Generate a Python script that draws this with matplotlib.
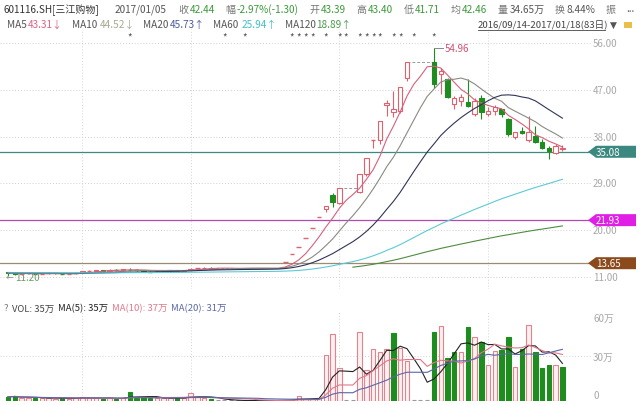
import numpy as np
import pandas as pd
import matplotlib
matplotlib.use("Agg")
import matplotlib.pyplot as plt
from matplotlib.patches import Rectangle, Polygon
from matplotlib.lines import Line2D
from matplotlib.transforms import blended_transform_factory, IdentityTransform

plt.rcParams['font.family'] = ['Noto Sans CJK SC', 'DejaVu Sans']

NaN = float('nan')

# daily bars 2016/09/14 - 2017/01/18 (83 days), NaN = suspended (停牌)
opens = [
    11.9, 11.7, 11.5, 11.6, 11.7, 11.6, 11.6, 11.7, 11.7, 11.6,
    11.6, 11.8, 12.1, 12.2, 12.3, 12.2, 12.4, 12.3, 12.5, 12.4,
    12.3, 12.1, 12.0, 12.1, 12.2, 12.3, 12.2, 12.3, 12.6, 12.7,
    12.8, NaN, NaN, NaN, NaN, NaN, NaN, NaN, NaN, NaN,
    NaN, 13.94, 15.33, 16.86, 18.55, 20.41, 22.45, 24.1, 26.77, 25.3,
    NaN, NaN, 27.4, 30.8, 37.30, 37.3, 44.0, 42.7, 42.9, 49.2,
    NaN, NaN, NaN, 52.3, 50.0, 49.1, 44.3, 44.8, 44.7, 42.35,
    45.4, 42.4, 43.0, 43.39, 41.4, 37.9, 39.0, 37.3, 38.05, 36.9,
    35.9, 34.8, 35.6,
]
highs = [
    12.0, 11.8, 11.7, 11.8, 11.8, 11.7, 11.8, 11.8, 11.8, 11.7,
    11.8, 12.2, 12.3, 12.4, 12.4, 12.5, 12.5, 12.6, 12.8, 12.5,
    12.3, 12.2, 12.2, 12.3, 12.4, 12.4, 12.4, 12.7, 12.8, 12.9,
    12.9, NaN, NaN, NaN, NaN, NaN, NaN, NaN, NaN, NaN,
    NaN, 13.94, 15.33, 16.86, 18.55, 20.41, 22.45, 24.70, 27.17, 28.03,
    NaN, NaN, 30.83, 33.91, 37.30, 41.03, 45.13, 46.8, 47.63, 52.39,
    NaN, NaN, NaN, 54.96, 51.1, 49.3, 45.9, 46.2, 49.1, 45.4,
    46.0, 43.7, 44.1, 43.40, 41.6, 38.9, 39.8, 42.0, 40.1, 37.5,
    36.25, 36.6, 36.4,
]
lows = [
    11.2, 11.4, 11.4, 11.5, 11.5, 11.5, 11.5, 11.6, 11.5, 11.5,
    11.5, 11.7, 12.0, 12.1, 12.1, 12.1, 12.2, 12.2, 12.3, 12.2,
    12.0, 11.9, 11.9, 12.0, 12.1, 12.1, 12.1, 12.3, 12.5, 12.6,
    12.6, NaN, NaN, NaN, NaN, NaN, NaN, NaN, NaN, NaN,
    NaN, 13.94, 15.33, 16.86, 18.55, 20.41, 22.45, 23.56, 24.46, 25.0,
    NaN, NaN, 27.2, 30.5, 35.9, 36.6, 41.9, 41.7, 42.5, 48.7,
    NaN, NaN, NaN, 47.3, 46.2, 45.4, 43.3, 43.9, 43.6, 42.0,
    41.4, 41.9, 42.2, 41.71, 38.1, 37.5, 38.5, 37.0, 36.8, 35.6,
    33.7, 34.6, 35.2,
]
closes = [
    11.7, 11.5, 11.6, 11.7, 11.6, 11.6, 11.7, 11.7, 11.6, 11.6,
    11.7, 12.1, 12.2, 12.3, 12.2, 12.4, 12.3, 12.5, 12.4, 12.3,
    12.1, 12.0, 12.1, 12.2, 12.3, 12.2, 12.3, 12.6, 12.7, 12.8,
    12.67, NaN, NaN, NaN, NaN, NaN, NaN, NaN, NaN, NaN,
    NaN, 13.94, 15.33, 16.86, 18.55, 20.41, 22.45, 24.70, 25.48, 28.03,
    NaN, NaN, 30.83, 33.91, 37.30, 41.03, 44.5, 43.3, 47.63, 52.39,
    NaN, NaN, NaN, 48.1, 50.7, 45.6, 45.4, 45.6, 43.8, 44.9,
    42.7, 43.0, 43.74, 42.44, 38.5, 38.8, 38.7, 38.9, 36.9, 35.75,
    35.3, 36.1, 35.9,
]
# volume in 万手
volumes = [
    2.5, 3.0, 1.5, 2.0, 1.8, 1.5, 1.8, 1.2, 1.5, 1.2,
    1.4, 2.5, 1.6, 1.4, 1.2, 1.5, 1.3, 1.6, 5.7, 2.0,
    2.2, 1.8, 1.5, 1.6, 1.4, 1.8, 2.0, 4.8, 2.5, 1.5,
    1.2, 0, 0, 0, 0, 0, 0, 0, 0, 0,
    0, 0.5, 0.6, 3.0, 0.8, 1.0, 1.5, 31, 45.5, 22,
    0, 0, 46.6, 21, 35, 33.4, 35, 46, 35.7, 26.6,
    0, 0, 0, 46.6, 51, 29, 33, 33.4, 50, 43,
    40, 24, 34, 34.65, 43, 23, 35, 51.6, 33.4, 22,
    24, 24, 23,
]
# closes before the window, only needed for MA60 / MA120
prior_closes = [
    11.6, 11.7, 11.9, 12.0, 11.8, 11.7, 11.9, 12.1, 12.0, 11.8,
    11.7, 11.6, 11.8, 11.9, 12.0, 11.9, 11.7, 11.6, 11.8, 11.9,
    12.1, 12.2, 12.0, 11.9, 11.8, 11.7, 11.9, 12.0, 11.8, 11.6,
    11.5, 11.7, 11.8, 11.9, 11.7, 11.6, 11.8, 12.0, 11.9, 11.7,
    11.6, 11.8, 11.9, 11.8, 11.7, 11.9, 12.0, 11.8, 11.7, 11.6,
    11.8, 11.9, 11.7, 11.6, 11.8, 11.9, 11.8, 11.7, 11.9, 12.0,
    11.8, 11.7, 11.9, 11.8, 11.7, 11.8, 11.9, 11.8,
]
news_days = [18, 32, 35, 42, 43, 44, 45, 47, 49, 50, 52, 53, 54, 55, 57, 58, 60, 63]
month_starts = [11, 27, 49, 71]
price_ticks = [56, 47, 38, 29, 20, 11]
vol_ticks = [0, 30, 60]
vol_tick_labels = ['0', '30万', '60万']
mark_levels = [35.08, 21.93, 13.65]
mark_line_colors = ['#3f8a80', '#b24ab2', '#9a8c74']
mark_tag_colors = ['#3a8880', '#e01ee6', '#8b4a1c']
ma_periods = [5, 10, 20, 60, 120]
ma_colors = ['#d8607e', '#8a8a80', '#303458', '#5ccad4', '#4e8c3e']
vol_ma_periods = [5, 10, 20]
vol_ma_colors = ['#222222', '#e0788a', '#5a66a8']

UP = '#e0606e'
DOWN = '#1e8c1e'
GREEN_TXT = '#3a9a3a'
LABEL_GRAY = '#777777'

W, H = 640, 406
fig = plt.figure(figsize=(W / 100, H / 100), dpi=100)


def fx(px):
    return px / W


def fy(py):
    return 1 - py / H


n = len(closes)
xs = np.arange(n)
spacing = 6.76
x0_px = 8.1
xl = (-x0_px / spacing, (592 - x0_px) / spacing)

# price panel
ax = fig.add_axes([0, fy(290), fx(592), (290 - 30) / H])
ax.set_xlim(*xl)
ax.set_ylim(8.69, 58.69)
ax.axis('off')

# volume panel
axv = fig.add_axes([0, fy(401.5), fx(592), (401.5 - 313) / H])
axv.set_xlim(*xl)
axv.set_ylim(0, (401.5 - 313) / 1.467)
axv.axis('off')

dot = (0, (1, 2))
for t in price_ticks:
    ax.axhline(t, color='#cfcfcf', lw=0.7, ls=dot, zorder=0)
    ax.text(fx(593), t, f'{t:.2f}', transform=blended_transform_factory(fig.transFigure, ax.transData),
            va='center', ha='left', fontsize=7, color='#a8a8a8')
for m in month_starts:
    ax.axvline(m, color='#d4d4d4', lw=0.7, ls=dot, zorder=0)
    axv.axvline(m, color='#d4d4d4', lw=0.7, ls=dot, zorder=0)
axv.axhline(30, color='#d4d4d4', lw=0.7, ls=dot, zorder=0)

# moving averages (suspended days carry the previous close)
filled = pd.Series(closes).ffill()
hist = pd.concat([pd.Series(prior_closes), filled], ignore_index=True)
for p, col in zip(ma_periods, ma_colors):
    ma = hist.rolling(p, min_periods=p).mean().iloc[len(prior_closes):].to_numpy()
    ax.plot(xs, ma, color=col, lw=0.8, zorder=4)

# candles
for i in range(n):
    o, h, l, c = opens[i], highs[i], lows[i], closes[i]
    if np.isnan(c):
        continue
    up = c >= o
    col = UP if up else DOWN
    if h == l:
        ax.hlines(c, i - 0.35, i + 0.35, color=col, lw=1.0, zorder=3)
        continue
    ax.vlines(i, l, h, color=col, lw=0.8, zorder=2)
    lo, hi = min(o, c), max(o, c)
    if hi - lo < 0.1:
        ax.hlines(c, i - 0.33, i + 0.33, color=col, lw=1.0, zorder=3)
    else:
        ax.add_patch(Rectangle((i - 0.33, lo), 0.66, hi - lo, fc='white' if up else DOWN,
                               ec=col, lw=0.8, zorder=3))

# suspended stretches: dashed line at the last close, dashes at zero volume
isn = np.isnan(np.array(closes))
i = 0
while i < n:
    if isn[i]:
        j = i
        while j + 1 < n and isn[j + 1]:
            j += 1
        ax.hlines(filled[i], i - 1, j + 1, color='#9a9a9a', lw=0.7, ls=(0, (3, 2)), zorder=2)
        for k in range(i, j + 1):
            axv.hlines(0.5, k - 0.3, k + 0.3, color='#9a9a9a', lw=0.8)
        i = j + 1
    else:
        i += 1

# highest / lowest marks
hi_idx = int(np.nanargmax(highs))
ax.plot([hi_idx, hi_idx + 1.3], [highs[hi_idx]] * 2, color='#888888', lw=0.7, zorder=4)
ax.text(hi_idx + 1.6, highs[hi_idx], f'{highs[hi_idx]:.2f}', va='center', ha='left',
        fontsize=7, color='#d05070')
lo_idx = int(np.nanargmin(lows))
ax.text(lo_idx - 0.3, lows[lo_idx] - 0.2, '←', va='center', ha='left', fontsize=5.5, color='#888888')
ax.text(lo_idx + 1.1, lows[lo_idx] - 0.2, f'{lows[lo_idx]:.2f}', va='center', ha='left',
        fontsize=7, color='#6aa06a')

# news markers
for d in news_days:
    ax.text(d, 57.3, '*', ha='center', va='center', fontsize=7, color='#555555')

# marked horizontal lines with tags on the right
for lvl, lc in zip(mark_levels, mark_line_colors):
    ax.axhline(lvl, color=lc, lw=0.9, zorder=1)
fig.canvas.draw()
renderer = fig.canvas.get_renderer()
for lvl, tc in zip(mark_levels, mark_tag_colors):
    yd = ax.transData.transform((0, lvl))[1]
    pts = [(588, yd), (596, yd + 6), (636, yd + 6), (636, yd - 6), (596, yd - 6)]
    fig.add_artist(Polygon(pts, closed=True, fc=tc, ec='none', transform=IdentityTransform()))
    fig.text(fx(596), yd / H, f'{lvl:.2f}', va='center', ha='left', fontsize=7, color='white')

# volume bars
prev = [prior_closes[-1]] + list(filled[:-1])
for i in range(n):
    if np.isnan(closes[i]) or volumes[i] <= 0:
        continue
    up = filled[i] >= prev[i]
    if up:
        axv.bar(i, volumes[i], width=0.66, color='#fdf0f1', edgecolor='#e08590', lw=0.8)
    else:
        axv.bar(i, volumes[i], width=0.66, color=DOWN, edgecolor=DOWN, lw=0.8)
vs = pd.Series(volumes)
for p, col in zip(vol_ma_periods, vol_ma_colors):
    axv.plot(xs, vs.rolling(p, min_periods=1).mean(), color=col, lw=0.8)
vtr = blended_transform_factory(fig.transFigure, axv.transData)
for t, lab, va in zip(vol_ticks, vol_tick_labels, ['bottom', 'center', 'top']):
    axv.text(fx(593), t, lab, transform=vtr, va=va, ha='left', fontsize=7, color='#a8a8a8')


def width_px(t):
    return t.get_window_extent(renderer).width


def spread_row(parts, x_start, x_last, y, fs):
    # parts: list of [(text, color), ...] groups; groups get equal gaps so the last one starts at x_last
    groups = []
    for grp in parts:
        tt = [fig.text(0, fy(y), s, fontsize=fs, color=c, va='center', ha='left') for s, c in grp]
        groups.append(tt)
    widths = [sum(width_px(t) for t in g) + 1.5 * (len(g) - 1) for g in groups]
    gap = (x_last - x_start - sum(widths[:-1])) / max(len(groups) - 1, 1)
    x = x_start
    for g, w in zip(groups, widths):
        xx = x
        for t in g:
            t.set_x(fx(xx))
            xx += width_px(t) + 1.5
        x += w + gap


# header row 1
cur = 73
chg = closes[cur] - closes[cur - 1]
fig.text(fx(4), fy(10), '601116.SH[三江购物]', fontsize=7.2, color='#333333', va='center', ha='left')
fig.text(fx(115), fy(10), '2017/01/05', fontsize=7.2, color='#555555', va='center', ha='left')
row1 = [
    [('收', LABEL_GRAY), (f'{closes[cur]:.2f}', GREEN_TXT)],
    [('幅', LABEL_GRAY), (f'{chg / closes[cur - 1] * 100:.2f}%({chg:.2f})', GREEN_TXT)],
    [('开', LABEL_GRAY), (f'{opens[cur]:.2f}', GREEN_TXT)],
    [('高', LABEL_GRAY), (f'{highs[cur]:.2f}', GREEN_TXT)],
    [('低', LABEL_GRAY), (f'{lows[cur]:.2f}', GREEN_TXT)],
    [('均', LABEL_GRAY), ('42.46', GREEN_TXT)],
    [('量', LABEL_GRAY), (f'{volumes[cur]:.2f}万', '#555555')],
    [('换', LABEL_GRAY), ('8.44%', '#555555')],
    [('振', LABEL_GRAY)],
]
spread_row(row1, 178, 606, 10, 7.2)
fig.text(fx(626), fy(9), '...', fontsize=7, color='#555555', va='center', ha='left')

# header row 2: moving average readout
ma_vals = [43.31, 44.52, 45.73, 25.94, 18.89]
ma_arrows = ['↓', '↓', '↑', '↑', '↑']
ma_x = [(7, 28), (72, 100), (143, 170), (213, 242), (285, 316)]
ma_txt_colors = ['#e06080', '#a8a890', '#4a5aa0', '#40c0c8', '#4a9a4a']
for p, v, a, (xa, xb), col in zip(ma_periods, ma_vals, ma_arrows, ma_x, ma_txt_colors):
    fig.text(fx(xa), fy(25), f'MA{p}', fontsize=7.2, color='#555555', va='center', ha='left')
    fig.text(fx(xb), fy(25), f'{v:.2f}{a}', fontsize=7.2, color=col, va='center', ha='left')

fig.text(fx(478), fy(25), '2016/09/14-2017/01/18(83日)', fontsize=6.9, color='#444444',
         va='center', ha='left')
fig.add_artist(Line2D([fx(478), fx(605)], [fy(31), fy(31)], color='#444444', lw=0.6))
fig.text(fx(610), fy(25), '▼', fontsize=6.5, color='#555555', va='center', ha='left',
         family='DejaVu Sans')
fig.add_artist(Rectangle((fx(624), fy(29)), fx(8), 6 / H, fc='#e8c048', ec='none'))

# volume readout
vol_row = [
    [('?', LABEL_GRAY)],
    [(f'VOL: {volumes[cur]:.0f}万', '#444444')],
    [('MA(5): 35万', '#222222')],
    [('MA(10): 37万', '#e0788a')],
    [('MA(20): 31万', '#5a66a8')],
]
spread_row(vol_row, 4, 171, 309, 6.8)

fig.savefig('out.png', dpi=100)
